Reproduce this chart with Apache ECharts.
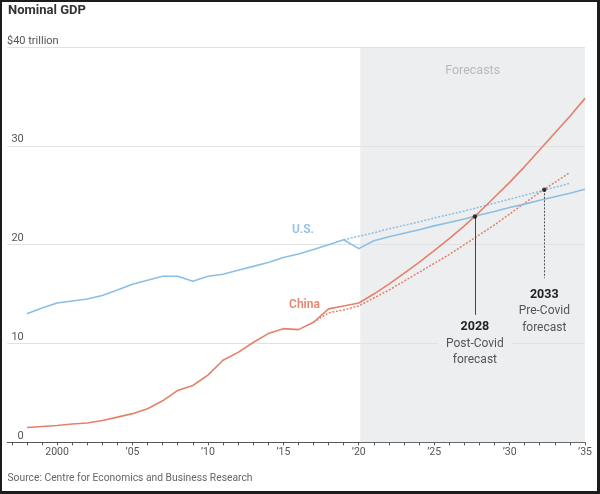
<!DOCTYPE html>
<html>
<head>
<meta charset="utf-8">
<script src="https://cdn.jsdelivr.net/npm/echarts@6/dist/echarts.min.js"></script>
<style>
html,body{margin:0;padding:0;background:#fff;}
#wrap{position:relative;width:600px;height:494px;}
#chart{position:absolute;left:0;top:0;width:600px;height:494px;}
#frame{position:absolute;left:0;top:0;width:600px;height:494px;box-sizing:border-box;border-style:solid;border-color:#1c1c1c;border-width:2px 3px 3px 2px;pointer-events:none;}
</style>
</head>
<body>
<div id="wrap"><div id="chart"></div><div id="frame"></div></div>
<script>
// ---- data ----
const histYears = [1998,1999,2000,2001,2002,2003,2004,2005,2006,2007,2008,2009,2010,2011,2012,2013,2014,2015,2016,2017,2018,2019];
const usHist    = [13.0,13.6,14.1,14.3,14.5,14.85,15.4,16.0,16.4,16.8,16.8,16.3,16.8,17.0,17.4,17.8,18.2,18.7,19.05,19.5,20.0,20.5];
const chinaHist = [1.5,1.6,1.7,1.85,1.95,2.2,2.55,2.9,3.4,4.2,5.25,5.75,6.8,8.3,9.1,10.1,11.0,11.5,11.4,12.15,13.5,13.8];

const postYears = [2020,2021,2022,2023,2024,2025,2026,2027,2028,2029,2030,2031,2032,2033,2034,2035];
const usPost    = [19.6,20.4,20.8,21.15,21.5,21.9,22.25,22.6,23.0,23.35,23.75,24.1,24.5,24.85,25.2,25.6];
const chinaPost = [14.1,15.0,16.0,17.1,18.2,19.4,20.6,21.9,23.3,24.8,26.3,27.9,29.6,31.3,33.0,34.8];

const usPreYears = [2019,2020,2021,2022,2023,2024,2025,2026,2027,2028,2029,2030,2031,2032,2033,2034];
const usPre      = [20.5,20.85,21.2,21.6,21.95,22.3,22.7,23.05,23.4,23.8,24.2,24.6,25.0,25.4,25.8,26.2];
const chinaPreYears = [2017,2018,2019,2020,2021,2022,2023,2024,2025,2026,2027,2028,2029,2030,2031,2032,2033,2034];
const chinaPre      = [12.15,13.1,13.4,13.8,14.6,15.4,16.3,17.2,18.1,19.0,20.0,21.0,22.0,23.1,24.2,25.3,26.3,27.3];

const crossYears  = [2027.7, 2032.3];
const crossValues = [22.85, 25.55];
const leaderEnds  = [12.9, 16.6];
const crossTitles = ['2028', '2033'];
const crossNotes  = ['Post-Covid', 'Pre-Covid'];

const tickYears  = [2000,2005,2010,2015,2020,2025,2030,2035];
const tickLabels = ['2000','\u201905','\u201910','\u201915','\u201920','\u201925','\u201930','\u201935'];
const yTicks = [0,10,20,30];

const forecastStart = 2020.1, forecastEnd = 2035;
// -------------

const FONT = 'Roboto, "Noto Sans", sans-serif';
const US_C = '#8cbfe3', CN_C = '#e5806a';
const pairs = (xs, ys) => xs.map((x, i) => [x, ys[i]]);
const minorTicks = [];
for (let y = 1997; y <= 2035; y++) minorTicks.push(y);

const chart = echarts.init(document.getElementById('chart'), null, {renderer: 'canvas'});
chart.setOption({
  animation: false,
  textStyle: {fontFamily: FONT},
  grid: {left: 7.3, right: 15, top: 47, bottom: 51.7},
  xAxis: {
    type: 'value', min: 1996.7, max: 2035,
    axisLine: {show: true, lineStyle: {color: '#555', width: 1}},
    axisTick: {show: true, length: 3, lineStyle: {color: '#555'}, customValues: minorTicks},
    axisLabel: {customValues: tickYears, margin: 5, fontSize: 10.5, color: '#555', fontFamily: FONT,
      formatter: v => { const i = tickYears.indexOf(Math.round(v)); return i >= 0 ? tickLabels[i] : ''; }},
    splitLine: {show: false}
  },
  yAxis: {
    type: 'value', min: 0, max: 40, interval: 10,
    axisLine: {show: false}, axisTick: {show: false},
    axisLabel: {inside: true, align: 'right', verticalAlign: 'bottom', margin: 16.5, fontSize: 11, color: '#555', fontFamily: FONT,
      padding: [0, 0, 1, 0],
      formatter: v => yTicks.indexOf(v) >= 0 ? String(v) : ''},
    splitLine: {show: true, lineStyle: {color: '#e2e2e2', width: 1}}
  },
  graphic: [
    {type: 'text', left: 8, top: 4, style: {text: 'Nominal GDP', font: 'bold 13px ' + FONT, fill: '#333'}},
    {type: 'text', left: 7, top: 36, style: {text: '$40 trillion', font: '11px ' + FONT, fill: '#555'}},
    {type: 'text', left: 7.5, top: 473, style: {text: 'Source: Centre for Economics and Business Research', font: '10.3px ' + FONT, fill: '#666'}}
  ],
  series: [
    {
      type: 'line', data: [], silent: true, z: 1,
      markArea: {silent: true, itemStyle: {color: 'rgba(220,224,228,0.55)'},
        label: {show: true, position: 'insideTop', distance: 17, formatter: 'Forecasts', fontSize: 12.5, color: '#b9b9b9', fontFamily: FONT},
        data: [[{xAxis: forecastStart, yAxis: 0}, {xAxis: forecastEnd, yAxis: 40}]]}
    },
    {
      name: 'U.S. pre-Covid', type: 'line', showSymbol: false, silent: true, z: 3,
      data: pairs(usPreYears, usPre),
      lineStyle: {color: US_C, width: 1.5, type: [2, 1.6]}
    },
    {
      name: 'China pre-Covid', type: 'line', showSymbol: false, silent: true, z: 3,
      data: pairs(chinaPreYears, chinaPre),
      lineStyle: {color: CN_C, width: 1.5, type: [2, 1.6]}
    },
    {
      name: 'U.S.', type: 'line', showSymbol: false, silent: true, z: 4,
      data: pairs(histYears.concat(postYears), usHist.concat(usPost)),
      lineStyle: {color: US_C, width: 1.6},
      markPoint: {symbol: 'circle', symbolSize: 0, silent: true,
        label: {show: true, formatter: 'U.S.', fontSize: 12, fontWeight: 600, color: '#93c2e4', fontFamily: FONT},
        data: [{coord: [2016.3, 21.5]}]}
    },
    {
      name: 'China', type: 'line', showSymbol: false, silent: true, z: 4,
      data: pairs(histYears.concat(postYears), chinaHist.concat(chinaPost)),
      lineStyle: {color: CN_C, width: 1.6},
      markPoint: {symbol: 'circle', symbolSize: 0, silent: true,
        label: {show: true, formatter: 'China', fontSize: 12, fontWeight: 600, color: '#e8846e', fontFamily: FONT},
        data: [{coord: [2016.4, 13.9]}]}
    },
    {
      name: 'crossings', type: 'scatter', silent: true, z: 6,
      symbol: 'circle', symbolSize: 4.5, itemStyle: {color: '#111'},
      data: pairs(crossYears, crossValues),
      markLine: {
        silent: true, symbol: ['none', 'none'],
        label: {show: true, position: 'end', fontFamily: FONT,
          rich: {
            b: {fontWeight: 'bold', fontSize: 12.5, color: '#222', lineHeight: 16.5, align: 'center'},
            n: {fontSize: 12, color: '#555', lineHeight: 16.5, align: 'center'}
          }},
        data: crossYears.map((yr, i) => [
          {coord: [yr, crossValues[i]],
           lineStyle: {color: i === 0 ? '#444' : '#555', width: 1, type: i === 0 ? 'solid' : [2, 1.5]},
           label: {distance: i === 0 ? 4 : 8, backgroundColor: '#eceef0', padding: [0, 8],
             formatter: '{b|' + crossTitles[i] + '}\n{n|' + crossNotes[i] + '}\n{n|forecast}'}},
          {coord: [yr, leaderEnds[i]]}
        ])
      }
    }
  ]
});
</script>
</body>
</html>
